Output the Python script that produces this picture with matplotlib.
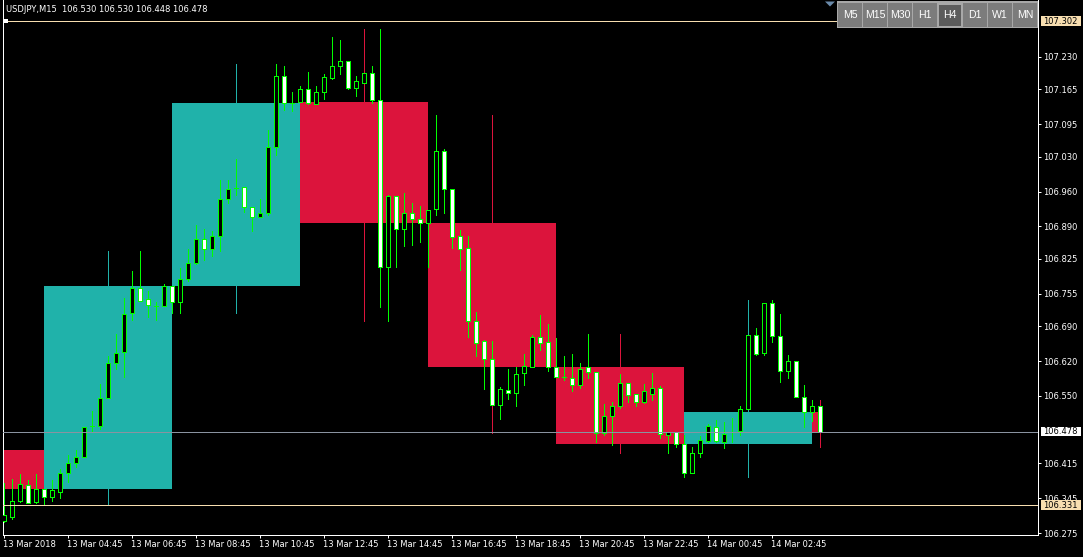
import numpy as np
import pandas as pd
import matplotlib
matplotlib.use("Agg")
import matplotlib.pyplot as plt
from matplotlib.patches import Rectangle, Polygon
from matplotlib.transforms import ScaledTranslation
from matplotlib import font_manager

# ---------------- data ----------------
symbol = "USDJPY"
timeframe = "M15"
start_time = "2018-03-13 02:45"

opens = [106.299, 106.308, 106.339, 106.371, 106.338, 106.363, 106.348, 106.358, 106.395, 106.415,
         106.427, 106.490, 106.490, 106.545, 106.616, 106.638, 106.716, 106.766, 106.744, 106.731,
         106.730, 106.771, 106.739, 106.784, 106.816, 106.864, 106.844, 106.870, 106.945, 106.968,
         106.969, 106.929, 106.910, 106.918, 107.050, 107.192, 107.137, 107.140, 107.165, 107.135,
         107.159, 107.188, 107.211, 107.222, 107.168, 107.178, 107.197, 107.143, 106.809, 106.951,
         106.884, 106.918, 106.904, 106.896, 106.926, 107.041, 106.965, 106.870, 106.847, 106.701,
         106.660, 106.624, 106.531, 106.561, 106.555, 106.597, 106.609, 106.669, 106.658, 106.608,
         106.589, 106.587, 106.571, 106.609, 106.599, 106.476, 106.510, 106.529, 106.577, 106.553,
         106.537, 106.553, 106.565, 106.471, 106.477, 106.453, 106.396, 106.435, 106.460, 106.487,
         106.458, 106.478, 106.480, 106.524, 106.672, 106.636, 106.736, 106.671, 106.601, 106.620,
         106.547, 106.518, 106.530]
highs = [106.375, 106.383, 106.393, 106.382, 106.393, 106.363, 106.381, 106.403, 106.432, 106.442,
         106.487, 106.520, 106.574, 106.630, 106.674, 106.747, 106.801, 106.841, 106.761, 106.739,
         106.775, 106.771, 106.806, 106.844, 106.893, 106.884, 106.880, 106.983, 106.983, 107.025,
         106.969, 106.930, 106.945, 107.084, 107.216, 107.212, 107.160, 107.172, 107.200, 107.172,
         107.196, 107.270, 107.264, 107.222, 107.192, 107.198, 107.212, 107.286, 106.953, 106.951,
         106.958, 106.938, 106.931, 106.924, 107.114, 107.045, 106.965, 106.883, 106.870, 106.719,
         106.662, 106.660, 106.568, 106.605, 106.608, 106.634, 106.672, 106.712, 106.694, 106.666,
         106.630, 106.634, 106.617, 106.674, 106.599, 106.534, 106.537, 106.595, 106.577, 106.553,
         106.574, 106.596, 106.569, 106.477, 106.477, 106.472, 106.448, 106.470, 106.494, 106.502,
         106.497, 106.505, 106.530, 106.682, 106.687, 106.736, 106.742, 106.714, 106.632, 106.620,
         106.572, 106.542, 106.530]
lows = [106.297, 106.304, 106.338, 106.336, 106.336, 106.333, 106.340, 106.346, 106.378, 106.407,
        106.427, 106.480, 106.483, 106.545, 106.605, 106.589, 106.702, 106.741, 106.708, 106.702,
        106.730, 106.717, 106.717, 106.781, 106.815, 106.823, 106.831, 106.841, 106.937, 106.953,
        106.920, 106.880, 106.910, 106.913, 107.033, 107.124, 107.122, 107.140, 107.135, 107.135,
        107.146, 107.186, 107.196, 107.166, 107.152, 107.178, 107.138, 106.728, 106.701, 106.809,
        106.851, 106.853, 106.859, 106.809, 106.914, 106.918, 106.847, 106.803, 106.668, 106.630,
        106.564, 106.476, 106.504, 106.543, 106.530, 106.572, 106.609, 106.642, 106.601, 106.589,
        106.583, 106.559, 106.565, 106.587, 106.458, 106.472, 106.452, 106.526, 106.538, 106.529,
        106.535, 106.542, 106.466, 106.435, 106.448, 106.388, 106.396, 106.428, 106.458, 106.458,
        106.446, 106.458, 106.472, 106.522, 106.632, 106.632, 106.659, 106.579, 106.587, 106.547,
        106.488, 106.500, 106.448]
closes = [106.311, 106.339, 106.373, 106.336, 106.363, 106.348, 106.361, 106.395, 106.415, 106.427,
          106.487, 106.490, 106.545, 106.616, 106.636, 106.714, 106.766, 106.741, 106.732, 106.731,
          106.771, 106.739, 106.784, 106.816, 106.864, 106.844, 106.870, 106.945, 106.965, 106.968,
          106.930, 106.910, 106.918, 107.050, 107.192, 107.137, 107.137, 107.165, 107.137, 107.159,
          107.189, 107.212, 107.222, 107.167, 107.182, 107.197, 107.144, 106.809, 106.951, 106.884,
          106.918, 106.904, 106.896, 106.924, 107.041, 106.965, 106.868, 106.845, 106.700, 106.657,
          106.624, 106.531, 106.563, 106.555, 106.595, 106.610, 106.668, 106.656, 106.608, 106.589,
          106.589, 106.571, 106.605, 106.599, 106.475, 106.510, 106.529, 106.577, 106.551, 106.537,
          106.559, 106.565, 106.473, 106.477, 106.453, 106.396, 106.435, 106.462, 106.490, 106.460,
          106.474, 106.478, 106.524, 106.672, 106.634, 106.736, 106.671, 106.601, 106.620, 106.547,
          106.517, 106.530, 106.478]

# H4 bar that began before the first visible M15 bar
prev_h4_time = "2018-03-13 00:00"
prev_h4_ohlc = [106.442, 106.470, 106.330, 106.363]

ytick_values = [107.230, 107.165, 107.095, 107.030, 106.960, 106.890, 106.825,
                106.755, 106.690, 106.620, 106.550, 106.415, 106.345, 106.275]
level_lines = [107.302, 106.331]
timeframe_buttons = ["M5", "M15", "M30", "H1", "H4", "D1", "W1", "MN"]
active_button = "H4"

# ---------------- style ----------------
W, H = 1083, 557
BULL_BOX = "#20B2AA"
BEAR_BOX = "#DC143C"
CANDLE_LINE = "#00FF00"
LEVEL_COLOR = "#F7DEB0"
BID_COLOR = "#8A93A0"
PX = 0.72  # one pixel in points

avail = {f.name for f in font_manager.fontManager.ttflist}
if "Liberation Sans Narrow" in avail:
    LABEL_FONT, LABEL_SIZE = "Liberation Sans Narrow", 7.9
else:
    LABEL_FONT, LABEL_SIZE = "DejaVu Sans", 6.0
BTN_FONT = "Liberation Sans" if "Liberation Sans" in avail else "DejaVu Sans"

df = pd.DataFrame({"open": opens, "high": highs, "low": lows, "close": closes})
df["time"] = pd.date_range(start_time, periods=len(df), freq="15min")
n = len(df)
last = n - 1

fig = plt.figure(figsize=(W / 100, H / 100), dpi=100, facecolor="black")
ax = fig.add_axes([2.5 / W, 22 / H, 1035.5 / W, 535 / H])
ax.set_facecolor("black")
ax.set_xlim(-0.125, 129.3125)
ax.set_ylim(106.2711, 107.3443)

# ---------------- H4 boxes ----------------
df["h4"] = df["time"].dt.floor("4h")
g = df.reset_index().groupby("h4")
h4 = pd.DataFrame({
    "start": g["index"].first(),
    "open": g["open"].first(),
    "high": g["high"].max(),
    "low": g["low"].min(),
    "close": g["close"].last(),
}).reset_index()
bars_per_h4 = 16
prev_start = int((pd.Timestamp(prev_h4_time) - pd.Timestamp(start_time)) / pd.Timedelta("15min"))
h4.loc[0, "open"] = prev_h4_ohlc[0]
h4.loc[0, "high"] = max(prev_h4_ohlc[1], h4.loc[0, "high"])
h4.loc[0, "low"] = min(prev_h4_ohlc[2], h4.loc[0, "low"])
h4.loc[0, "start"] = prev_start

for _, r in h4.iterrows():
    s = r["start"]
    e = min(s + bars_per_h4, last)
    wk = min(s + bars_per_h4 / 2, last)
    col = BULL_BOX if r["close"] >= r["open"] else BEAR_BOX
    lo_b, hi_b = min(r["open"], r["close"]), max(r["open"], r["close"])
    ax.add_patch(Rectangle((s, lo_b), e - s, hi_b - lo_b, fc=col, ec="none", zorder=1))
    ax.vlines(wk, hi_b, r["high"], color=col, lw=PX, zorder=2.5, antialiased=False)
    ax.vlines(wk, r["low"], lo_b, color=col, lw=PX, zorder=2.5, antialiased=False)

# ---------------- M15 candles ----------------
bw = 0.5
for k, r in df.iterrows():
    o, hh, ll, c = r["open"], r["high"], r["low"], r["close"]
    ax.vlines(k, ll, hh, color=CANDLE_LINE, lw=PX, zorder=2, antialiased=False)
    if abs(c - o) < 1e-9:
        ax.hlines(o, k - bw / 2, k + bw / 2, color=CANDLE_LINE, lw=PX, zorder=3, antialiased=False)
    else:
        fc = "black" if c > o else "white"
        ax.add_patch(Rectangle((k - bw / 2, min(o, c)), bw, abs(c - o), fc=fc,
                               ec=CANDLE_LINE, lw=PX, zorder=3, antialiased=False))

# ---------------- horizontal lines ----------------
for lv in level_lines:
    ax.axhline(lv, color=LEVEL_COLOR, lw=PX, zorder=4)
bid = closes[-1]
ax.axhline(bid, color=BID_COLOR, lw=PX, zorder=4)

# ---------------- axes styling ----------------
ax.spines["top"].set_visible(False)
for sp in ["left", "right", "bottom"]:
    ax.spines[sp].set_color("white")
    ax.spines[sp].set_linewidth(PX)
ax.yaxis.tick_right()
ax.set_yticks(ytick_values, labels=[f"{v:.3f}" for v in ytick_values])
ax.tick_params(axis="y", colors="white", length=2.2, width=PX, pad=1.6,
               labelsize=LABEL_SIZE)
xt_pos = [0] + [k for k in range(1, n) if df["time"][k].minute == 45 and df["time"][k].hour % 2 == 0]
xt_lab = [df["time"][0].strftime("%d %b %Y")] + [df["time"][k].strftime("%d %b %H:%M") for k in xt_pos[1:]]
ax.set_xticks(xt_pos, labels=xt_lab)
ax.tick_params(axis="x", colors="white", length=2.2, width=PX, pad=1.4,
               labelsize=LABEL_SIZE)
off = ScaledTranslation(-0.5 / 100, 0, fig.dpi_scale_trans)
for lbl in ax.get_xticklabels() + ax.get_yticklabels():
    lbl.set_fontfamily(LABEL_FONT)
for lbl in ax.get_xticklabels():
    lbl.set_ha("left")
    lbl.set_transform(lbl.get_transform() + off)


def fig_rect(x0, y0, x1, y1, **kw):
    fig.add_artist(Rectangle((x0 / W, 1 - y1 / H), (x1 - x0) / W, (y1 - y0) / H,
                             transform=fig.transFigure, **kw))


def price_pixel(p):
    return H - ax.transData.transform((0, p))[1]


# price tags on the right
for lv, fc in [(level_lines[0], LEVEL_COLOR), (level_lines[1], LEVEL_COLOR), (bid, "white")]:
    yc = price_pixel(lv)
    fig_rect(1040.5, yc - 5, 1081, yc + 4.5, fc=fc, ec="none", zorder=5)
    fig.text(1043.5 / W, 1 - yc / H, f"{lv:.3f}", color="black", va="center", ha="left",
             fontsize=LABEL_SIZE, family=LABEL_FONT, zorder=6)

# small anchor square on the top level line
yc = price_pixel(level_lines[0])
fig_rect(3, yc - 2.5, 7.5, yc + 2, fc="white", ec="none", zorder=5)

# title
last_bar = df.iloc[-1]
title = f"{symbol},{timeframe}  {last_bar['open']:.3f} {last_bar['high']:.3f} {last_bar['low']:.3f} {last_bar['close']:.3f}"
fig.text(6.5 / W, 1 - 9.5 / H, title, color="white", va="center", ha="left",
         fontsize=LABEL_SIZE, family=LABEL_FONT, zorder=6)

# timeframe buttons
fig_rect(836.5, 1.5, 1038, 28, fc="#A8A8A8", ec="none", zorder=5)
for i, b in enumerate(timeframe_buttons):
    x0 = 838 + 25 * i
    if b == active_button:
        fig_rect(x0 + 1, 4.5, x0 + 23, 26, fc="#5C5C5C", ec="none", zorder=6)
    else:
        fig_rect(x0, 3, x0 + 24, 27, fc="#7C7C7C", ec="none", zorder=6)
    fig.text((x0 + 12) / W, 1 - 15.5 / H, b, color="white", va="center", ha="center",
             fontsize=7.6, family=BTN_FONT, zorder=7)

fig.add_artist(Polygon([[825 / W, 1 - 1.5 / H], [835 / W, 1 - 1.5 / H], [830 / W, 1 - 6.5 / H]],
                       closed=True, transform=fig.transFigure, fc="#6A8AAA", ec="none", zorder=5))

fig.savefig("out.png", dpi=100, facecolor="black")
